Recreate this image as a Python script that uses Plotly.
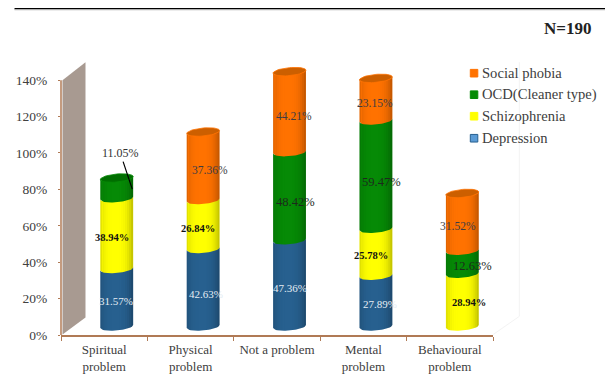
import math
import plotly.graph_objects as go

# Survey data: share of respondents per perceived cause, stacked by diagnosis
categories = ["Spiritual<br>problem", "Physical<br>problem", "Not a problem",
              "Mental<br>problem", "Behavioural<br>problem"]
depression = [31.57, 42.63, 47.36, 27.89, 0]
schizophrenia = [38.94, 26.84, 0, 25.78, 28.94]
ocd = [11.05, 0, 48.42, 59.47, 12.63]
social_phobia = [0, 37.36, 44.21, 23.15, 31.52]
series_names = ["Depression", "Schizophrenia", "OCD(Cleaner type)", "Social phobia"]
y_ticks = [0, 20, 40, 60, 80, 100, 120, 140]
sample_label = "N=190"

W, H = 605, 378
Y_MAX = 156           # headroom above the last tick so the tallest cylinders are not clipped
LEFT, RIGHT, BOTTOM = 60.5, 492.7, 334.6
TOP = BOTTOM - Y_MAX * 1.819
FLOOR = 4.67          # cylinders stand slightly above the axis, pseudo-3D floor
DEPTH = 0.145         # horizontal shift of the cylinders, in category units
RX = 0.19             # cylinder half width, category units
RY = 2.2              # ellipse half height, percent units
TILT = 0.8            # ellipse tilt, percent units
SERIF = "Liberation Serif"
AXIS_COLOR = "#B07A55"
TEXT_COLOR = "#404040"

series = [depression, schizophrenia, ocd, social_phobia]
body_colors = ["#27608F", "#FFFF00", "#068A06", "#FF7200"]
cap_colors = ["#1F5078", "#E0E000", "#006E00", "#CC5F00"]
label_styles = [
    dict(color="#E4ECF3", size=11, bold=False),
    dict(color="#111111", size=10.5, bold=True),
    dict(color="#1c2a1c", size=12.5, bold=False),
    dict(color="#3C3C44", size=11.5, bold=False),
]
# Label nudges (dx, dy) in pixels from each segment's centre, dy positive downward
label_nudges = {
    (0, 0): (-1, 3.5), (0, 1): (-5, 4),
    (1, 0): (3, 6), (1, 1): (-5, 3.7), (1, 3): (7, 4),
    (2, 0): (0, 5), (2, 2): (6, 6), (2, 3): (4, 4),
    (3, 0): (4, 3), (3, 1): (-5, 3), (3, 2): (6, 7), (3, 3): (-1, 4),
    (4, 1): (7, 2.3), (4, 2): (10, 4), (4, 3): (-4.5, 3.6),
}


def px(x):
    return (x - LEFT) / (RIGHT - LEFT)


def py(y):
    return (BOTTOM - y) / (BOTTOM - TOP)


def lower_arc(cx, cy, steps=24, start=-1.0, end=1.0):
    """Points along the front edge of a tilted ellipse, between two width fractions."""
    xs, ys = [], []
    for k in range(steps + 1):
        t = start + (end - start) * k / steps
        xs.append(cx + RX * t)
        ys.append(cy - RY * math.sqrt(max(0.0, 1 - t * t)) + TILT * t)
    return xs, ys


fig = go.Figure()

# Flat stacked columns on the category axis
base = [FLOOR] * len(categories)
for name, values, color in zip(series_names, series, body_colors):
    fig.add_bar(x=categories, y=values, base=list(base), name=name, width=RX * 1.8,
                offset=DEPTH - RX * 0.9, marker=dict(color=color, line=dict(width=0)),
                showlegend=False, hoverinfo="skip")
    base = [b + v for b, v in zip(base, values)]
totals = base

# Rounded cylinder bodies over the columns, lowest segment first
base = [FLOOR] * len(categories)
for values, color in zip(series, body_colors):
    xs, ys = [], []
    for i, v in enumerate(values):
        if v <= 0:
            continue
        cx = i + DEPTH
        bx, by = lower_arc(cx, base[i])
        tx, ty = lower_arc(cx, base[i] + v)
        xs += bx + tx[::-1] + [bx[0], None]
        ys += by + ty[::-1] + [by[0], None]
    fig.add_scatter(x=xs, y=ys, xaxis="x2", yaxis="y", mode="lines", fill="toself",
                    fillcolor=color, line=dict(width=0),
                    showlegend=False, hoverinfo="skip")
    base = [b + v for b, v in zip(base, values)]

# Side shading: darker strips towards both edges of each cylinder
STRIPS = 16
for s in range(STRIPS):
    t0 = -1 + 2 * s / STRIPS
    t1 = -1 + 2 * (s + 1) / STRIPS
    mid = (t0 + t1) / 2
    alpha = 0.2 * abs(mid + 0.1) ** 3
    xs, ys = [], []
    for i, total in enumerate(totals):
        cx = i + DEPTH
        bx, by = lower_arc(cx, FLOOR, 3, t0, t1)
        tx, ty = lower_arc(cx, total, 3, t0, t1)
        xs += bx + tx[::-1] + [bx[0], None]
        ys += by + ty[::-1] + [by[0], None]
    fig.add_scatter(x=xs, y=ys, xaxis="x2", yaxis="y", mode="lines", fill="toself",
                    fillcolor=f"rgba(0,0,0,{alpha:.3f})", line=dict(width=0),
                    showlegend=False, hoverinfo="skip")

# Top caps take the colour of the uppermost non-empty segment
for i, total in enumerate(totals):
    top = max(j for j, vals in enumerate(series) if vals[i] > 0)
    cx = i + DEPTH
    angles = [2 * math.pi * k / 48 for k in range(49)]
    fig.add_scatter(x=[cx + RX * math.cos(a) for a in angles],
                    y=[total + RY * math.sin(a) + TILT * math.cos(a) for a in angles],
                    xaxis="x2", yaxis="y", mode="lines", fill="toself",
                    fillcolor=cap_colors[top], line=dict(width=0.8, color=body_colors[top]),
                    showlegend=False, hoverinfo="skip")

annotations = []

# Value labels
base = [FLOOR] * len(categories)
for j, values in enumerate(series):
    style = label_styles[j]
    for i, v in enumerate(values):
        if v > 0 and (i, j) in label_nudges:
            dx, dy = label_nudges[(i, j)]
            text = f"{v:.2f}%"
            annotations.append(dict(
                x=i + DEPTH, y=base[i] + v / 2, xref="x2", yref="y", showarrow=False,
                text=f"<b>{text}</b>" if style["bold"] else text, xshift=dx, yshift=-dy,
                font=dict(family=SERIF, size=style["size"], color=style["color"])))
    base = [b + v for b, v in zip(base, values)]

# The thin green slice is called out with a leader line
annotations.append(dict(
    x=DEPTH + 0.18, y=FLOOR + depression[0] + schizophrenia[0] + ocd[0] * 0.45,
    xref="x2", yref="y", ax=-12, ay=-36, axref="pixel", ayref="pixel",
    text=f"{ocd[0]:.2f}%", showarrow=True, arrowhead=0, arrowwidth=1.2,
    arrowcolor="#000000", standoff=0, startstandoff=0,
    font=dict(family=SERIF, size=12, color="#333333")))

annotations.append(dict(
    x=px(567), y=py(28), xref="paper", yref="paper", showarrow=False, xanchor="center",
    yanchor="middle", text=f"<b>{sample_label}</b>",
    font=dict(family=SERIF, size=17, color="#222222")))

shapes = [
    # Rule across the top of the figure
    dict(type="line", xref="paper", yref="paper", x0=px(14), x1=px(605), y0=py(8.5), y1=py(8.5),
         line=dict(color="#000000", width=1.3)),
    dict(type="line", xref="paper", yref="paper", x0=px(14), x1=px(605), y0=py(9.6), y1=py(9.6),
         line=dict(color="#AAAAAA", width=1)),
    # Side wall of the pseudo-3D plot box
    dict(type="path", xref="paper", yref="paper", layer="below", line=dict(width=0),
         fillcolor="#A89A91",
         path=f"M{px(62)},{py(80)} L{px(85)},{py(62)} L{px(85)},{py(317)} L{px(62)},{py(334)} Z"),
    # Faint back edges of the plot box
    dict(type="line", xref="paper", yref="paper", layer="below", x0=px(519), x1=px(519),
         y0=py(62), y1=py(316), line=dict(color="#F3F3F3", width=1)),
    dict(type="line", xref="paper", yref="paper", layer="below", x0=px(493), x1=px(519),
         y0=py(334), y1=py(316), line=dict(color="#F3F3F3", width=1)),
    # Value axis line stops at the last tick
    dict(type="line", xref="x domain", yref="y", x0=0, x1=0, y0=0, y1=y_ticks[-1],
         line=dict(color=AXIS_COLOR, width=1.5)),
]

# Legend keys, top to bottom
legend_fill = ["#FF7200", "#068A06", "#FFFF00", "#5B9BD5"]
legend_edge = ["#FF7200", "#068A06", "#FFFF00", "#27608F"]
legend_rows = [73, 94.5, 116, 138]
for name, fill, edge, row in zip(series_names[::-1], legend_fill, legend_edge, legend_rows):
    shapes.append(dict(type="rect", xref="paper", yref="paper", x0=px(470), x1=px(477.5),
                       y0=py(row + 3.8), y1=py(row - 3.8), fillcolor=fill,
                       line=dict(color=edge, width=1)))
    annotations.append(dict(x=px(479.5), y=py(row), xref="paper", yref="paper", xanchor="left",
                            yanchor="middle", showarrow=False, text=name,
                            font=dict(family=SERIF, size=14.6, color=TEXT_COLOR)))

fig.update_layout(
    width=W, height=H, autosize=False, barmode="overlay", showlegend=False,
    paper_bgcolor="#FFFFFF", plot_bgcolor="rgba(0,0,0,0)",
    margin=dict(l=LEFT, r=W - RIGHT, t=TOP, b=H - BOTTOM, pad=0, autoexpand=False),
    font=dict(family=SERIF, size=13, color=TEXT_COLOR),
    xaxis=dict(type="category", categoryorder="array", categoryarray=categories,
               range=[-0.5, 4.5], tickson="boundaries", ticks="outside", ticklen=4,
               tickwidth=1, tickcolor=AXIS_COLOR, showline=True, linecolor=AXIS_COLOR,
               linewidth=1.5, showgrid=False, zeroline=False, tickangle=0,
               automargin=False, ticklabelstandoff=2,
               tickfont=dict(family=SERIF, size=13, color=TEXT_COLOR)),
    xaxis2=dict(overlaying="x", anchor="y", range=[-0.5, 4.5], visible=False),
    yaxis=dict(range=[0, Y_MAX], tickmode="array", tickvals=y_ticks,
               ticktext=[f"{t}%" for t in y_ticks], ticks="outside", ticklen=2,
               tickwidth=1, tickcolor=AXIS_COLOR, showline=False,
               showgrid=False, zeroline=False, ticklabelstandoff=8, automargin=False,
               tickfont=dict(family=SERIF, size=13.5, color=TEXT_COLOR)),
    shapes=shapes, annotations=annotations,
)

fig.write_html("out.html", config=dict(displayModeBar=False))
